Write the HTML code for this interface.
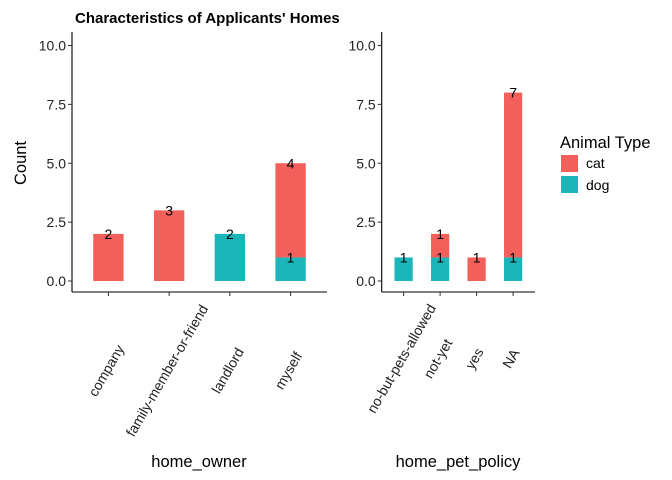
<!DOCTYPE html>
<html><head><meta charset="utf-8"><style>
html,body{margin:0;padding:0;background:#fff;}
svg{display:block;font-family:"Liberation Sans",Arial,sans-serif;}
</style></head><body>
<svg id="chart" width="672" height="480" viewBox="0 0 672 480" xmlns="http://www.w3.org/2000/svg">
<text x="75" y="23" font-size="15" font-weight="bold" fill="#000">Characteristics of Applicants' Homes</text>
<text transform="translate(26,163) rotate(-90)" text-anchor="middle" font-size="16.5" fill="#000">Count</text>
<g id="p1"></g>
<g id="p2"></g>
<g>
<text x="560" y="148" font-size="16.5" fill="#000">Animal Type</text>
<rect x="561" y="155" width="17" height="17" fill="#F3605C"/>
<text x="586" y="168" font-size="14" fill="#000">cat</text>
<rect x="561" y="176" width="17" height="17" fill="#1BB6BA"/>
<text x="586" y="190" font-size="14" fill="#000">dog</text>
</g>
</svg>
<script>
const cats1 = ["company","family-member-or-friend","landlord","myself"];
const dog1 = [0,0,2,1];
const cat1 = [2,3,0,4];
const cats2 = ["no-but-pets-allowed","not-yet","yes","NA"];
const dog2 = [1,1,0,1];
const cat2 = [0,1,1,7];
const yTicks = [0,2.5,5,7.5,10];
const yTickLabels = ["0.0","2.5","5.0","7.5","10.0"];
const NS="http://www.w3.org/2000/svg";
function mk(tag,attrs,parent){const e=document.createElementNS(NS,tag);for(const k in attrs)e.setAttribute(k,attrs[k]);parent.appendChild(e);return e;}
const y0=281, pxPerUnit=23.55;
function yScale(v){return y0-v*pxPerUnit;}
function panel(g,left,right,cats,dogs,catsV,title,titleX,labelY){
  const step=(right-left)/(cats.length-1+1.2);
  const xScale=i=>left+(0.6+i)*step;
  const bw=step*0.5;
  const ax=mk('line',{x1:left,y1:32,x2:left,y2:292,stroke:'#000','stroke-width':1.1},g);
  
  const bx=mk('line',{x1:left,y1:292,x2:right,y2:292,stroke:'#000','stroke-width':1.1},g);
  
  yTicks.forEach((t,i)=>{
    const tk=mk('line',{x1:left-4,x2:left,y1:yScale(t),y2:yScale(t),stroke:'#333'},g);
    
    const tl=mk('text',{x:left-6,y:yScale(t)+5,'text-anchor':'end','font-size':14,fill:'#222'},g);
    
    tl.textContent=yTickLabels[i];
  });
  cats.forEach((c,i)=>{
    const x=xScale(i);
    const tk=mk('line',{x1:x,x2:x,y1:292,y2:296,stroke:'#333'},g);
    
    const tl=mk('text',{transform:`translate(${x+2},${labelY}) rotate(-60)`,'text-anchor':'middle','font-size':14,fill:'#222'},g);
    
    tl.textContent=c;
    const d=dogs[i], ct=catsV[i];
    if(d>0){
      const r=mk('rect',{x:x-bw/2,y:yScale(d),width:bw,height:yScale(0)-yScale(d),fill:'#1BB6BA'},g);
      
    }
    if(ct>0){
      const r=mk('rect',{x:x-bw/2,y:yScale(d+ct),width:bw,height:yScale(d)-yScale(d+ct),fill:'#F3605C'},g);
      
    }
    if(d>0){
      const t=mk('text',{x:x,y:yScale(d)+5,'text-anchor':'middle','font-size':14,fill:'#000'},g);
      
      t.textContent=d;
    }
    if(ct>0){
      const t=mk('text',{x:x,y:yScale(d+ct)+5,'text-anchor':'middle','font-size':14,fill:'#000'},g);
      
      t.textContent=ct;
    }
  });
  const at=mk('text',{x:titleX,y:467,'text-anchor':'middle','font-size':16.5,fill:'#000'},g);
  
  at.textContent=title;
}
panel(document.getElementById('p1'),72,327,cats1,dog1,cat1,'home_owner',199,373);
panel(document.getElementById('p2'),381.7,535,cats2,dog2,cat2,'home_pet_policy',458,361);
</script>
</body></html>
